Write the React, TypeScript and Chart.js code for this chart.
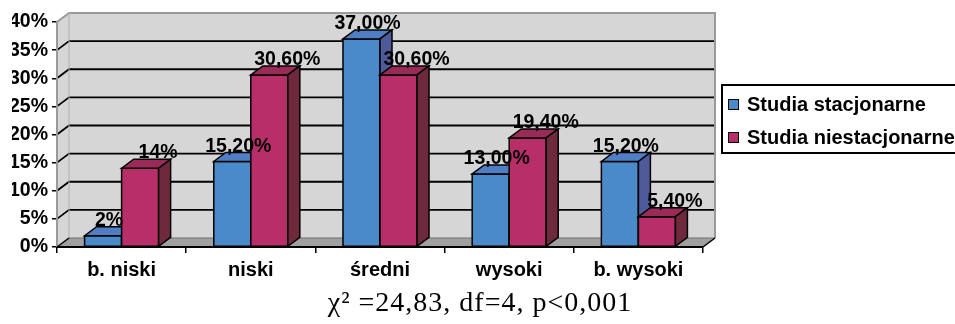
import { useEffect, useRef } from 'react';
import { Chart, registerables } from 'chart.js';

Chart.register(...registerables);

const categories = ['b. niski', 'niski', 'średni', 'wysoki', 'b. wysoki'];
const seriesNames = ['Studia stacjonarne', 'Studia niestacjonarne'];
const stacjonarne = [2, 15.2, 37, 13, 15.2];
const niestacjonarne = [14, 30.6, 30.6, 19.4, 5.4];
const stacjonarneLabels = ['2%', '15,20%', '37,00%', '13,00%', '15,20%'];
const niestacjonarneLabels = ['14%', '30,60%', '30,60%', '19,40%', '5,40%'];
const yMin = 0;
const yMax = 40;
const yStep = 5;
const formulaText = 'χ² =24,83, df=4, p<0,001';

const DX = 12;
const DY = -9;
const FONT = '"Liberation Sans", Arial, sans-serif';
const SERIF = '"Liberation Serif", "Times New Roman", serif';

const faces = [
  { front: '#4a8ac8', top: '#4f7ec4', side: '#4f5a9a' },
  { front: '#b82e68', top: '#9a2a58', side: '#6e2a3c' },
];
const labelShift = [6, 18];
const allLabels = [stacjonarneLabels, niestacjonarneLabels];

function poly(ctx: CanvasRenderingContext2D, pts: number[][], fill?: string, stroke?: string, lw = 1.5) {
  ctx.beginPath();
  ctx.moveTo(pts[0][0], pts[0][1]);
  for (let i = 1; i < pts.length; i++) ctx.lineTo(pts[i][0], pts[i][1]);
  ctx.closePath();
  if (fill) {
    ctx.fillStyle = fill;
    ctx.fill();
  }
  if (stroke) {
    ctx.strokeStyle = stroke;
    ctx.lineWidth = lw;
    ctx.stroke();
  }
}

function line(ctx: CanvasRenderingContext2D, pts: number[][], color: string, lw: number) {
  ctx.beginPath();
  ctx.moveTo(pts[0][0], pts[0][1]);
  for (let i = 1; i < pts.length; i++) ctx.lineTo(pts[i][0], pts[i][1]);
  ctx.strokeStyle = color;
  ctx.lineWidth = lw;
  ctx.stroke();
}

const threeD = {
  id: 'threeD',
  beforeDatasetsDraw(chart: any) {
    const ctx: CanvasRenderingContext2D = chart.ctx;
    const { left, right, top, bottom } = chart.chartArea;
    const ys = chart.scales.y;
    ctx.save();
    poly(ctx, [[left, top], [left + DX, top + DY], [left + DX, bottom + DY], [left, bottom]], '#d6d6d6');
    poly(ctx, [[left + DX, top + DY], [right + DX, top + DY], [right + DX, bottom + DY], [left + DX, bottom + DY]], '#d6d6d6');
    poly(ctx, [[left, bottom], [left + DX, bottom + DY], [right + DX, bottom + DY], [right, bottom]], '#a0a0a0');
    for (let v = yMin + yStep; v < yMax; v += yStep) {
      const y = ys.getPixelForValue(v);
      line(ctx, [[left, y], [left + DX, y + DY], [right + DX, y + DY]], '#000', 1.8);
    }
    line(ctx, [[left, bottom], [left, top], [left + DX, top + DY], [right + DX, top + DY], [right + DX, bottom + DY]], '#9a9a9a', 2);
    line(ctx, [[left + DX, top + DY], [left + DX, bottom + DY]], '#b0b0b0', 1);
    line(ctx, [[left + DX, bottom + DY], [right + DX, bottom + DY]], '#707070', 1);
    line(ctx, [[left, bottom], [left + DX, bottom + DY]], '#000', 1.5);
    line(ctx, [[right, bottom], [right + DX, bottom + DY]], '#000', 1.5);
    line(ctx, [[left, bottom], [right, bottom]], '#000', 2);
    ctx.restore();
  },
  afterDatasetsDraw(chart: any) {
    const ctx: CanvasRenderingContext2D = chart.ctx;
    const metas = chart.data.datasets.map((_: any, d: number) => chart.getDatasetMeta(d));
    ctx.save();
    ctx.lineJoin = 'miter';
    for (let i = 0; i < categories.length; i++) {
      for (let d = 0; d < metas.length; d++) {
        const el = metas[d].data[i];
        const { x, y, base, width } = el.getProps(['x', 'y', 'base', 'width'], true);
        const xl = x - width / 2;
        const xr = x + width / 2;
        const f = faces[d];
        poly(ctx, [[xl, y], [xr, y], [xr, base], [xl, base]], f.front, '#000', 1.5);
        poly(ctx, [[xl, y], [xl + DX, y + DY], [xr + DX, y + DY], [xr, y]], f.top, '#000', 1.5);
        poly(ctx, [[xr, y], [xr + DX, y + DY], [xr + DX, base + DY], [xr, base]], f.side, '#000', 1.5);
      }
    }
    ctx.font = `bold 19.5px ${FONT}`;
    ctx.fillStyle = '#000';
    ctx.textAlign = 'center';
    ctx.textBaseline = 'alphabetic';
    for (let d = 0; d < metas.length; d++) {
      for (let i = 0; i < categories.length; i++) {
        const el = metas[d].data[i];
        const { x, y } = el.getProps(['x', 'y'], true);
        ctx.fillText(allLabels[d][i], x + labelShift[d], y + DY - 1);
      }
    }
    ctx.restore();
  },
  afterDraw(chart: any) {
    const ctx: CanvasRenderingContext2D = chart.ctx;
    ctx.save();
    const lx = 722, ly = 85, lw = 260, lh = 68;
    ctx.fillStyle = '#fff';
    ctx.fillRect(lx, ly, lw, lh);
    ctx.strokeStyle = '#000';
    ctx.lineWidth = 2;
    ctx.strokeRect(lx, ly, lw, lh);
    ctx.font = `bold 20px ${FONT}`;
    ctx.textBaseline = 'middle';
    ctx.textAlign = 'left';
    chart.data.datasets.forEach((ds: any, d: number) => {
      const cy = 104.5 + d * 33;
      ctx.fillStyle = ds.backgroundColor;
      ctx.fillRect(728, cy - 5.5, 11, 11);
      ctx.strokeStyle = '#000';
      ctx.lineWidth = 1;
      ctx.strokeRect(728.5, cy - 5, 10, 10);
      ctx.fillStyle = '#000';
      ctx.fillText(ds.label, 747, cy + 1);
    });
    ctx.font = `28px ${SERIF}`;
    (ctx as any).letterSpacing = '1px';
    ctx.textAlign = 'center';
    ctx.textBaseline = 'alphabetic';
    ctx.fillStyle = '#000';
    ctx.fillText(formulaText, 480, 311);
    ctx.restore();
  },
};

export default function App() {
  const ref = useRef<HTMLCanvasElement | null>(null);
  useEffect(() => {
    if (!ref.current) return;
    const chart = new Chart(ref.current, {
      type: 'bar',
      data: {
        labels: categories,
        datasets: [
          { label: seriesNames[0], data: stacjonarne, backgroundColor: faces[0].front, borderWidth: 0 },
          { label: seriesNames[1], data: niestacjonarne, backgroundColor: faces[1].front, borderWidth: 0 },
        ],
      },
      options: {
        responsive: false,
        animation: false,
        events: [],
        layout: { padding: { left: 12, right: 252, top: 22, bottom: 0 } },
        plugins: { legend: { display: false }, tooltip: { enabled: false }, title: { display: false } },
        datasets: { bar: { categoryPercentage: 0.573, barPercentage: 1 } },
        scales: {
          x: {
            grid: { offset: true, drawOnChartArea: false, drawTicks: true, tickLength: 6, color: '#000', lineWidth: 1.5 },
            border: { display: false },
            ticks: { color: '#000', font: { family: FONT, size: 20, weight: 'bold' }, padding: 5, maxRotation: 0 },
            afterFit: (s: any) => { s.height = 77; },
          },
          y: {
            min: yMin,
            max: yMax,
            ticks: { stepSize: yStep, color: '#000', font: { family: FONT, size: 19.5, weight: 'bold' }, padding: 4, callback: (v: any) => `${v}%` },
            grid: { drawOnChartArea: false, drawTicks: true, tickLength: 5, color: '#000', lineWidth: 1.5 },
            border: { display: false },
            afterFit: (s: any) => { s.width = 45; },
          },
        },
      },
      plugins: [threeD],
    });
    return () => chart.destroy();
  }, []);
  return (
    <div style={{ position: 'fixed', left: 0, top: 0, width: 955, height: 324, background: '#fff' }}>
      <canvas ref={ref} width={955} height={324} style={{ display: 'block' }} />
    </div>
  );
}
